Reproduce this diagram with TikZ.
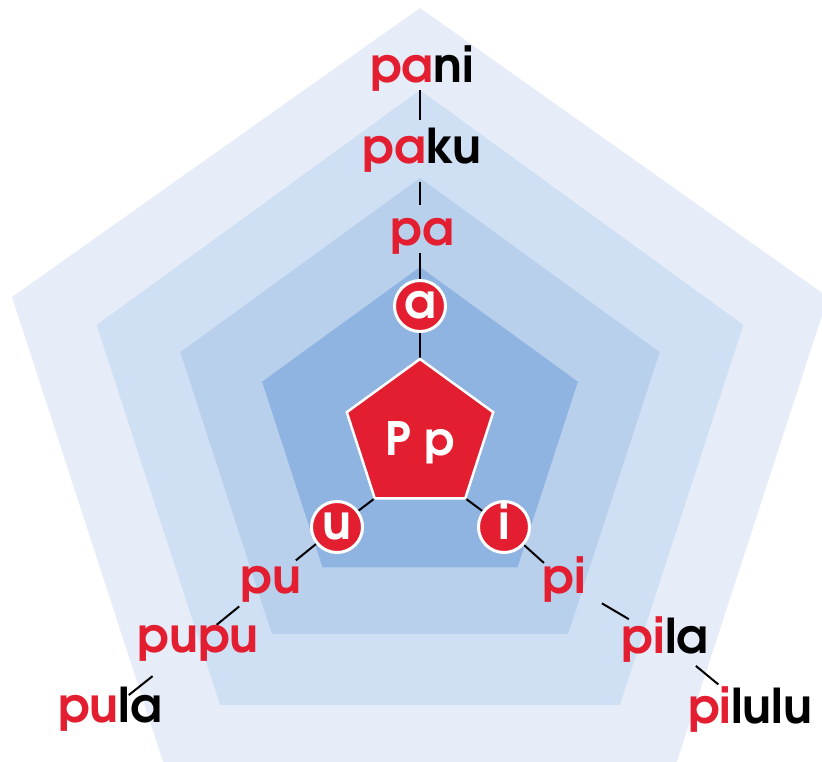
\documentclass[tikz,border=0pt]{standalone}
\usepackage{fontspec}
\setmainfont{texgyreadventor}[Extension=.otf, UprightFont=*-regular, BoldFont=*-bold, ItalicFont=*-italic, BoldItalicFont=*-bolditalic]
\newfontfamily\wf{texgyreadventor}[Extension=.otf, UprightFont=*-bold]
\usetikzlibrary{calc}
\definecolor{pred}{HTML}{E31E30}
\definecolor{bgA}{HTML}{E6EDF8}
\definecolor{bgB}{HTML}{CFE0F4}
\definecolor{bgC}{HTML}{B9D0EC}
\definecolor{bgD}{HTML}{8FB4E1}
\newcommand\rd[1]{\textcolor{pred}{#1}}
\pgfdeclarelayer{bg}\pgfdeclarelayer{mid}\pgfsetlayers{bg,mid,main}
\begin{document}
\begin{tikzpicture}[x=1pt,y=1pt,
  word/.style={font=\wf\fontsize{48}{50}\selectfont, inner sep=0pt, text height=25pt, text depth=0pt, anchor=center},
  letter/.style={circle, fill=pred, draw=white, line width=3pt, minimum size=51pt, inner sep=0pt, text=white,
    font=\wf\fontsize{48}{48}\selectfont, text height=25pt, text depth=0pt},
  conn/.style={line width=2pt, black}]
\useasboundingbox (0,0) rectangle (822,-761);
\begin{pgfonlayer}{bg}
\clip (0,0) rectangle (822,-761);
\fill[bgA] (420,-8) -- (828,-297) -- (672,-777) -- (168,-777) -- (12,-297) -- cycle;
\fill[bgB, shift={(420,-430)}] (90:340) -- (162:340) -- (234:340) -- (306:340) -- (18:340) -- cycle;
\fill[bgC, shift={(420,-430)}] (90:252) -- (162:252) -- (234:252) -- (306:252) -- (18:252) -- cycle;
\fill[bgD, shift={(420,-433)}] (90:166) -- (162:166) -- (234:166) -- (306:166) -- (18:166) -- cycle;
\end{pgfonlayer}
% central pentagon
\coordinate (Pc) at (420,-436);
\path (Pc) ++(90:77) coordinate (Ptop);
\path (Pc) ++(162:77) coordinate (Pl);
\path (Pc) ++(234:77) coordinate (Pbl);
\path (Pc) ++(306:77) coordinate (Pbr);
\path (Pc) ++(18:77) coordinate (Pr);
\filldraw[fill=pred, draw=white, line width=2.5pt, line join=miter] (Ptop) -- (Pl) -- (Pbl) -- (Pbr) -- (Pr) -- cycle;
\node[font=\wf\fontsize{46}{46}\selectfont, text=white, inner sep=0pt, anchor=base] (Pp) at (420,-455) {P p};
% vowel circles
\node[letter] (a) at (420,-306) {a};
\node[letter] (u) at (337,-527) {u};
\node[letter] (i) at (504,-527) {i};
% words
\node[word] (pani) at (422,-70) {\rd{pa}ni};
\node[word] (paku) at (422,-150.5) {\rd{pa}ku};
\node[word] (pa) at (422,-232.5) {\rd{pa}};
\node[word] (pu) at (271,-580.5) {\rd{pu}};
\node[word] (pupu) at (198,-640) {\rd{pupu}};
\node[word] (pula) at (110,-710) {\rd{pu}la};
\node[word] (pi) at (564,-581) {\rd{pi}};
\node[word] (pila) at (665,-640.5) {\rd{pi}la};
\node[word] (pilulu) at (750,-710.5) {\rd{pi}lulu};
\begin{pgfonlayer}{mid}
\draw[conn, shorten <=20pt, shorten >=30.5pt] (a |- pani.center) -- (a |- paku.center);
\draw[conn, shorten <=31.5pt, shorten >=27.5pt] (a |- paku.center) -- (a |- pa.center);
\draw[conn, shorten <=20.5pt] (a |- pa.center) -- (a);
\draw[conn] (a) -- (Ptop);
\draw[conn] (Pbl) -- (u);
\draw[conn] (Pbr) -- (i);
\draw[conn, shorten >=32pt] (u) -- (pu.center);
\draw[conn, shorten <=41pt, shorten >=24pt] (pu.center) -- (pupu.center);
\draw[conn, shorten <=58pt, shorten >=24pt] (pupu.center) -- (pula.center);
\draw[conn, shorten >=27pt] (i) -- (pi.center);
\draw[conn, shorten <=44pt, shorten >=42pt] (pi.center) -- (pila.center);
\draw[conn, shorten <=40pt, shorten >=41pt] (pila.center) -- (pilulu.center);
\end{pgfonlayer}
\end{tikzpicture}
\end{document}
